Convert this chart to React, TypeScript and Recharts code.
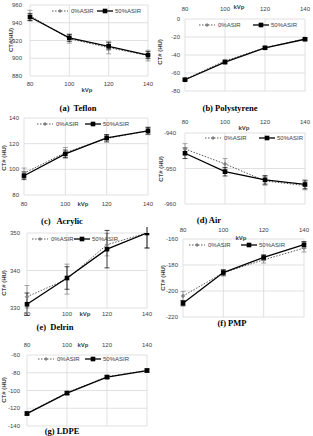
import React from 'react';
import { LineChart, Line, XAxis, YAxis, CartesianGrid, ErrorBar, Legend } from 'recharts';

// Tube voltage (kVp) on every panel
const kvp = [80, 100, 120, 140];
const kvpTicks = [80, 100, 120, 140];

const seriesNames = ['0%ASIR', '50%ASIR'];

// (a) Teflon
const teflon0 = [948, 922, 912, 903];
const teflon0Err = [6, 5, 7, 6];
const teflon50 = [946.5, 923, 913.5, 903.5];
const teflon50Err = [4, 4, 4, 4];
const teflonTicks = [880, 900, 920, 940, 960];

// (b) Polystyrene
const poly0 = [-67, -46.5, -32, -22];
const poly0Err = [1.5, 1.5, 1.5, 1.5];
const poly50 = [-67.5, -48, -32, -22.5];
const poly50Err = [1, 1, 1, 1];
const polyTicks = [-80, -60, -40, -20, 0];

// (c) Acrylic
const acrylic0 = [97, 113, 124, 130];
const acrylic0Err = [4, 4, 3, 3];
const acrylic50 = [95, 112, 124.5, 130];
const acrylic50Err = [3, 3, 2.5, 2.5];
const acrylicTicks = [80, 100, 120, 140];

// (d) Air
const air0 = [-944.5, -948.7, -953.5, -954.8];
const air0Err = [1.5, 1.5, 1.2, 1.2];
const air50 = [-945.7, -950.9, -953.2, -954.5];
const air50Err = [1.5, 1.2, 1.2, 1.2];
const airTicks = [-960, -950, -940];

// (e) Delrin
const delrin0 = [333, 337.7, 346.9, 350];
const delrin0Err = [3, 4, 3, 4];
const delrin50 = [331, 338, 345.7, 350];
const delrin50Err = [3, 3, 5, 4];
const delrinTicks = [330, 340, 350];

// (f) PMP
const pmp0 = [-203.8, -186, -176, -167];
const pmp0Err = [3.5, 2.5, 2.5, 3];
const pmp50 = [-209.4, -185.8, -174.2, -164.4];
const pmp50Err = [2, 2, 2, 2.5];
const pmpTicks = [-220, -200, -180, -160];

// (g) LDPE
const ldpe0 = [-125.5, -102.5, -84.5, -77.5];
const ldpe0Err = [2, 2, 2, 2];
const ldpe50 = [-126, -103, -85, -77.5];
const ldpe50Err = [1.5, 1.5, 1.5, 1.5];
const ldpeTicks = [-140, -120, -100, -80, -60];

const TICK_FONT = '"Liberation Sans", Arial, sans-serif';
const CAPTION_FONT = '"Liberation Serif", "Times New Roman", serif';

function rows(v0: number[], e0: number[], v50: number[], e50: number[]) {
  return kvp.map((k, i) => ({ kvp: k, a0: v0[i], e0: e0[i], a50: v50[i], e50: e50[i] }));
}

type Spec = {
  id: string;
  data: ReturnType<typeof rows>;
  yTicks: number[];
  plot: { l: number; t: number; r: number; b: number };
  axisTop: boolean;
  xGap: number;
  yGap: number;
  legend: { x: number; y: number; gap: number };
  kvpLabel: { x: number; y: number };
  ctLabel: { x: number; y: number; text: string };
  caption: { x: number; y: number; text: string };
};

const panels: Spec[] = [
  {
    id: 'a', data: rows(teflon0, teflon0Err, teflon50, teflon50Err), yTicks: teflonTicks,
    plot: { l: 30, t: 5, r: 148, b: 76 }, axisTop: false, xGap: 8, yGap: 8,
    legend: { x: 52, y: 11, gap: 45 }, kvpLabel: { x: 87, y: 90 },
    ctLabel: { x: 11, y: 40, text: 'CT#(HU)' }, caption: { x: 78, y: 108, text: '(a)  Teflon' },
  },
  {
    id: 'b', data: rows(poly0, poly0Err, poly50, poly50Err), yTicks: polyTicks,
    plot: { l: 185, t: 19, r: 305, b: 91 }, axisTop: true, xGap: 10, yGap: 5,
    legend: { x: 199, y: 25, gap: 54 }, kvpLabel: { x: 239, y: 7 },
    ctLabel: { x: 160, y: 52, text: 'CT# (HU)' }, caption: { x: 230, y: 108, text: '(b) Polystyrene' },
  },
  {
    id: 'c', data: rows(acrylic0, acrylic0Err, acrylic50, acrylic50Err), yTicks: acrylicTicks,
    plot: { l: 24, t: 118, r: 148, b: 195 }, axisTop: false, xGap: 9, yGap: 5,
    legend: { x: 37, y: 124, gap: 48 }, kvpLabel: { x: 83, y: 204 },
    ctLabel: { x: 4, y: 158, text: 'CT# (HU)' }, caption: { x: 62, y: 221, text: '(c)   Acrylic' },
  },
  {
    id: 'd', data: rows(air0, air0Err, air50, air50Err), yTicks: airTicks,
    plot: { l: 185, t: 133, r: 305, b: 204 }, axisTop: true, xGap: 11, yGap: 9,
    legend: { x: 205, y: 138, gap: 54 }, kvpLabel: { x: 244, y: 128 },
    ctLabel: { x: 161, y: 169, text: 'CT# (HU)' }, caption: { x: 209, y: 220, text: '(d) Air' },
  },
  {
    id: 'e', data: rows(delrin0, delrin0Err, delrin50, delrin50Err), yTicks: delrinTicks,
    plot: { l: 27, t: 233, r: 147, b: 308 }, axisTop: false, xGap: 6, yGap: 7,
    legend: { x: 32, y: 239, gap: 42 }, kvpLabel: { x: 85, y: 314 },
    ctLabel: { x: 4, y: 283, text: 'CT# (HU)' }, caption: { x: 55, y: 327, text: '(e)  Delrin' },
  },
  {
    id: 'f', data: rows(pmp0, pmp0Err, pmp50, pmp50Err), yTicks: pmpTicks,
    plot: { l: 183, t: 239, r: 304, b: 317 }, axisTop: true, xGap: 9, yGap: 5,
    legend: { x: 189, y: 245, gap: 52 }, kvpLabel: { x: 241, y: 238 },
    ctLabel: { x: 163, y: 278, text: 'CT# (HU)' }, caption: { x: 232, y: 323, text: '(f) PMP' },
  },
  {
    id: 'g', data: rows(ldpe0, ldpe0Err, ldpe50, ldpe50Err), yTicks: ldpeTicks,
    plot: { l: 27, t: 355, r: 147, b: 426 }, axisTop: true, xGap: 10, yGap: 7,
    legend: { x: 38, y: 359, gap: 47 }, kvpLabel: { x: 83, y: 345 },
    ctLabel: { x: 4, y: 390, text: 'CT# (HU)' }, caption: { x: 62, y: 431, text: '(g) LDPE' },
  },
];

const XTick = (props: any) => (
  <text x={props.x} y={props.y} textAnchor="middle" dominantBaseline="central"
    fontFamily={TICK_FONT} fontSize={6} fill="#404040">{props.payload.value}</text>
);

const YTick = (props: any) => (
  <text x={props.x} y={props.y} textAnchor="end" dominantBaseline="central"
    fontFamily={TICK_FONT} fontSize={6} fill="#404040">{props.payload.value}</text>
);

const diamondDot = (props: any) => {
  const { cx, cy, index } = props;
  if (cx == null || cy == null) return <g key={`d${index}`} />;
  return (
    <path key={`d${index}`} d={`M${cx},${cy - 2}L${cx + 2},${cy}L${cx},${cy + 2}L${cx - 2},${cy}Z`}
      fill="#808080" stroke="#808080" strokeWidth={0.4} />
  );
};

const squareDot = (props: any) => {
  const { cx, cy, index } = props;
  if (cx == null || cy == null) return <g key={`s${index}`} />;
  return <rect key={`s${index}`} x={cx - 2.3} y={cy - 2.3} width={4.6} height={4.6} fill="#000" />;
};

function LegendSwatches({ gap }: { gap: number }) {
  return (
    <svg width={110} height={8} style={{ display: 'block', overflow: 'visible' }}>
      <line x1={0} y1={4} x2={16} y2={4} stroke="#595959" strokeWidth={1} strokeDasharray="1.5 1.5" />
      <path d="M8,2L10,4L8,6L6,4Z" fill="#808080" />
      <text x={19} y={4} dominantBaseline="central" fontFamily={TICK_FONT} fontSize={6} fill="#404040">
        {seriesNames[0]}
      </text>
      <line x1={gap} y1={4} x2={gap + 16} y2={4} stroke="#000" strokeWidth={1.3} />
      <rect x={gap + 5.7} y={1.7} width={4.6} height={4.6} fill="#000" />
      <text x={gap + 18} y={4} dominantBaseline="central" fontFamily={TICK_FONT} fontSize={6} fill="#404040">
        {seriesNames[1]}
      </text>
    </svg>
  );
}

function Panel({ p }: { p: Spec }) {
  const yw = 26;
  const xh = 14;
  const boxX = p.plot.l - yw;
  const boxW = p.plot.r - boxX + 8;
  let boxY: number;
  let boxH: number;
  let margin: { top: number; right: number; bottom: number; left: number };
  if (p.axisTop) {
    boxY = p.plot.t - xh - 2;
    boxH = p.plot.b + 6 - boxY;
    margin = { top: 2, right: 8, bottom: 6, left: 0 };
  } else {
    boxY = p.plot.t - 6;
    boxH = p.plot.b + xh - boxY;
    margin = { top: 6, right: 8, bottom: 0, left: 0 };
  }
  const yDomain = [p.yTicks[0], p.yTicks[p.yTicks.length - 1]];
  return (
    <div style={{ position: 'absolute', left: boxX, top: boxY }}>
      <LineChart width={boxW} height={boxH} data={p.data} margin={margin}>
        <CartesianGrid stroke="#d9d9d9" strokeWidth={0.8} />
        <XAxis dataKey="kvp" type="number" domain={[80, 140]} ticks={kvpTicks} interval={0}
          orientation={p.axisTop ? 'top' : 'bottom'} height={xh} axisLine={false} tickLine={false}
          tickSize={0} tickMargin={p.xGap} tick={<XTick />} />
        <YAxis type="number" domain={yDomain} ticks={p.yTicks} interval={0} width={yw}
          axisLine={false} tickLine={false} tickSize={0} tickMargin={p.yGap} tick={<YTick />}
          allowDataOverflow />
        <Legend verticalAlign="middle" layout="horizontal"
          wrapperStyle={{ left: p.legend.x - boxX, top: p.legend.y - 4 - boxY, width: 'auto' }}
          content={() => <LegendSwatches gap={p.legend.gap} />} />
        <Line dataKey="a0" name={seriesNames[0]} stroke="#595959" strokeWidth={1} strokeDasharray="1.5 1.5"
          dot={diamondDot} activeDot={false} isAnimationActive={false}>
          <ErrorBar dataKey="e0" width={2.5} stroke="#808080" strokeWidth={0.7} direction="y" />
        </Line>
        <Line dataKey="a50" name={seriesNames[1]} stroke="#000" strokeWidth={1.3}
          dot={squareDot} activeDot={false} isAnimationActive={false}>
          <ErrorBar dataKey="e50" width={2.5} stroke="#000" strokeWidth={0.7} direction="y" />
        </Line>
      </LineChart>
    </div>
  );
}

export default function App() {
  return (
    <div style={{ position: 'absolute', left: 0, top: 0, width: 313, height: 436, background: '#fff', overflow: 'hidden' }}>
      {panels.map((p) => <Panel key={p.id} p={p} />)}
      <svg width={313} height={436} style={{ position: 'absolute', left: 0, top: 0, pointerEvents: 'none' }}>
        {panels.map((p) => (
          <g key={p.id}>
            <text x={p.kvpLabel.x} y={p.kvpLabel.y} textAnchor="middle" dominantBaseline="central"
              fontFamily={TICK_FONT} fontSize={6} fontWeight="bold" fill="#404040">kVp</text>
            <text x={p.ctLabel.x} y={p.ctLabel.y} textAnchor="middle" dominantBaseline="central"
              transform={`rotate(-90 ${p.ctLabel.x} ${p.ctLabel.y})`}
              fontFamily={TICK_FONT} fontSize={6} fontWeight="bold" fill="#404040">{p.ctLabel.text}</text>
            <text x={p.caption.x} y={p.caption.y} textAnchor="middle" dominantBaseline="central"
              fontFamily={CAPTION_FONT} fontSize={8.5} fontWeight="bold" fill="#000"
              style={{ whiteSpace: 'pre' }}>{p.caption.text}</text>
          </g>
        ))}
      </svg>
    </div>
  );
}
